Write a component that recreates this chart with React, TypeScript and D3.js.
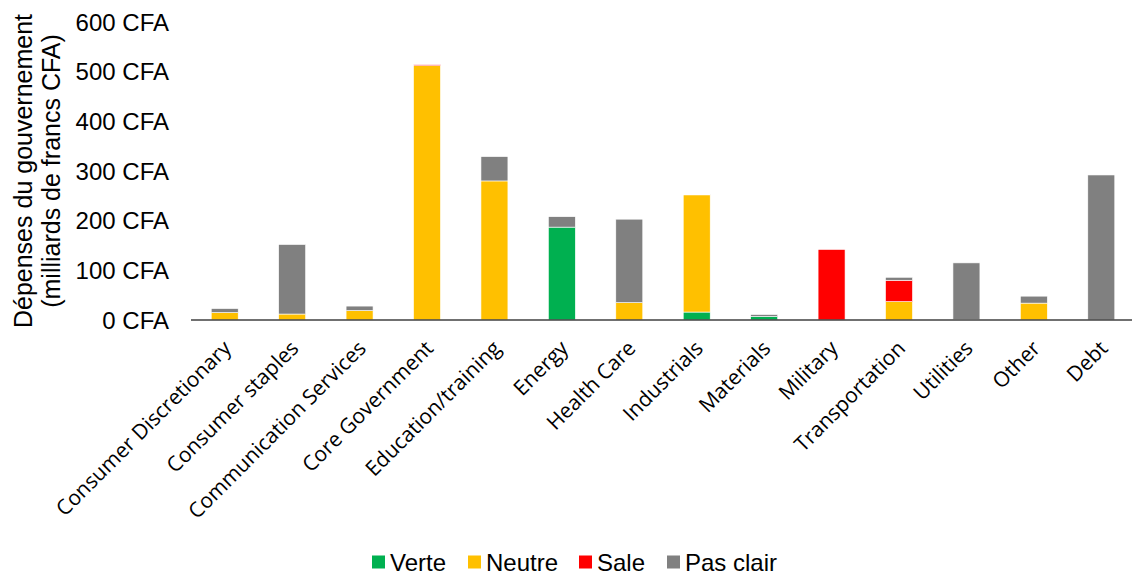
import React from "react";
import * as d3 from "d3";

const categories = [
  "Consumer Discretionary",
  "Consumer staples",
  "Communication Services",
  "Core Government",
  "Education/training",
  "Energy",
  "Health Care",
  "Industrials",
  "Materials",
  "Military",
  "Transportation",
  "Utilities",
  "Other",
  "Debt",
];

const verte = [0, 0, 0, 0, 0, 187, 0, 16, 7, 0, 0, 0, 0, 0];
const neutre = [15, 12, 19, 512, 280, 0, 35, 236, 0, 0, 37, 1, 34, 0];
const sale = [0, 0, 0, 2, 0, 0, 0, 0, 0, 142, 43, 0, 0, 0];
const pasClair = [8, 140, 9, 0, 49, 21, 168, 1, 4, 0, 6, 114, 14, 292];

const seriesNames = ["Verte", "Neutre", "Sale", "Pas clair"];
const seriesColors = ["#00B050", "#FFC000", "#FF0000", "#808080"];
const yTicks = [0, 100, 200, 300, 400, 500, 600];

const W = 1132;
const H = 574;
const left = 191;
const right = 1135;
const y0 = 320;
const yTop = 22;

export default function App() {
  const x = d3.scaleBand<string>().domain(categories).range([left, right]).paddingInner(0.6).paddingOuter(0.3);
  const y = d3.scaleLinear().domain([0, 600]).range([y0, yTop]);

  const rows = categories.map((c, i) => ({
    cat: c,
    Verte: verte[i],
    Neutre: neutre[i],
    Sale: sale[i],
    "Pas clair": pasClair[i],
  }));
  const stacked = d3.stack<any>().keys(seriesNames)(rows);

  const font = "'Liberation Sans', Arial, sans-serif";
  const legendX = [372, 468, 579, 667];

  return (
    <svg width={W} height={H} style={{ position: "absolute", left: 0, top: 0, background: "#fff" }}>
      {/* y tick labels */}
      {yTicks.map((t) => (
        <text key={t} x={169} y={y(t)} textAnchor="end" dominantBaseline="central" fontFamily={font} fontSize={24} fill="#000">
          {`${t} CFA`}
        </text>
      ))}
      {/* y title */}
      <g transform={`translate(0, ${(y0 + yTop) / 2}) rotate(-90)`}>
        <text x={0} y={32} textAnchor="middle" fontFamily={font} fontSize={25} fill="#000">
          Dépenses du gouvernement
        </text>
        <text x={0} y={60} textAnchor="middle" fontFamily={font} fontSize={25} fill="#000">
          (milliards de francs CFA)
        </text>
      </g>
      {/* bars */}
      {stacked.map((s, si) => (
        <g key={s.key} fill={seriesColors[si]}>
          {s.map((d, i) => {
            const h = y(d[0]) - y(d[1]);
            if (h <= 0) return null;
            return (
              <rect
                key={i}
                x={x(categories[i])}
                y={y(d[1])}
                width={x.bandwidth()}
                height={h}
                stroke="#fff"
                strokeWidth={0.6}
              />
            );
          })}
        </g>
      ))}
      {/* x axis line */}
      <line x1={left} x2={1132} y1={y0} y2={y0} stroke="#404040" strokeWidth={1.5} />
      {/* x labels */}
      {categories.map((c) => {
        const cx = (x(c) as number) + x.bandwidth() / 2;
        return (
          <text
            key={c}
            transform={`translate(${cx + 2}, ${y0 + 24}) rotate(-45)`}
            textAnchor="end"
            dominantBaseline="central"
            fontFamily="'Open Sans', sans-serif"
            fontSize={21}
            fill="#000"
          >
            {c}
          </text>
        );
      })}
      {/* legend */}
      {seriesNames.map((n, i) => (
        <g key={n} transform={`translate(${legendX[i]}, 562)`}>
          <rect x={0} y={-6.5} width={13} height={13} fill={seriesColors[i]} />
          <text x={18} y={0} dominantBaseline="central" fontFamily={font} fontSize={24} fill="#000">
            {n}
          </text>
        </g>
      ))}
    </svg>
  );
}
